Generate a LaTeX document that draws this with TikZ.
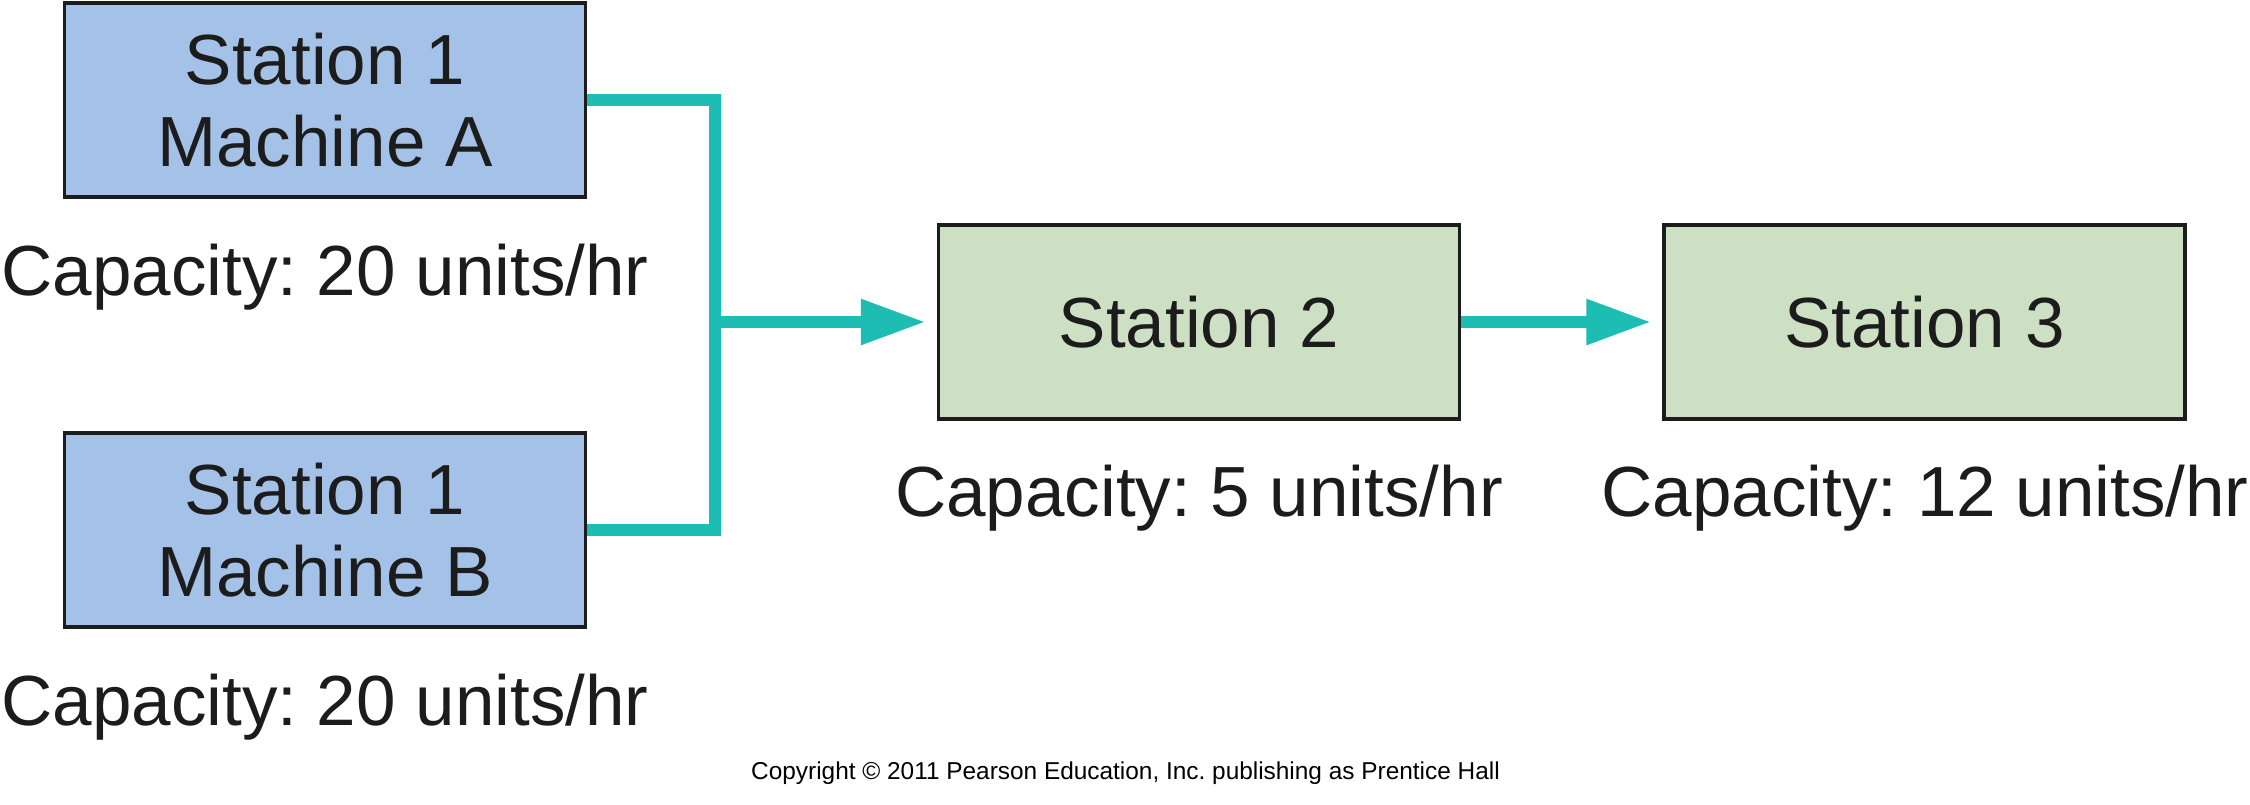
\documentclass[tikz,border=0pt]{standalone}
\usepackage{fontspec}
\setmainfont{Liberation Sans}
\usetikzlibrary{arrows.meta}
\frenchspacing
\definecolor{boxblue}{RGB}{164,194,232}
\definecolor{boxgreen}{RGB}{206,224,195}
\definecolor{flowteal}{RGB}{29,189,180}
\definecolor{inkdark}{RGB}{28,28,28}
\tikzset{
  stationbox/.style={draw=inkdark, line width=1.75pt, rectangle, inner sep=0pt,
    minimum width=260.5pt, minimum height=97pt, align=center, text=inkdark,
    font=\fontsize{35.5}{41}\selectfont},
  bluebox/.style={stationbox, fill=boxblue},
  greenbox/.style={stationbox, fill=boxgreen},
  caplabel/.style={anchor=base, inner sep=0pt, text=inkdark, font=\fontsize{35.5}{41}\selectfont},
  flowline/.style={draw=flowteal, line width=6pt, line join=miter, line cap=butt},
  flowarrow/.style={flowline, -{Triangle[length=32.5pt, width=21.5pt]}, shorten >=5.5pt},
  copyr/.style={anchor=base, inner sep=0pt, text=black, font=\fontsize{12.2}{14}\selectfont}
}
\begin{document}
\begin{tikzpicture}[x=0.5pt, y=-0.5pt]
\useasboundingbox (0,0) rectangle (2250,804);
\fill[white] (0,0) rectangle (2250,804);
\node[bluebox] (A) at (325,100) {Station 1\\Machine A};
\node[bluebox] (B) at (325,530) {Station 1\\Machine B};
\node[greenbox] (S2) at (1199,322) {Station 2};
\node[greenbox] (S3) at (1924.5,322) {Station 3};
\node[caplabel] (LA) at (325,295) {Capacity: 20 units/hr};
\node[caplabel] (LB) at (325,725) {Capacity: 20 units/hr};
\node[caplabel] (L2) at (1199,516) {Capacity: 5 units/hr};
\node[caplabel] (L3) at (1925,516) {Capacity: 12 units/hr};
\node[copyr] (C) at (1125.5,779) {Copyright © 2011 Pearson Education, Inc. publishing as Prentice Hall};
\coordinate (J) at (715,322);
\draw[flowline] (A.east) -| (J) |- (B.east);
\draw[flowarrow] (J) -- (S2.west);
\draw[flowarrow] (S2.east) -- (S3.west);
\end{tikzpicture}
\end{document}
